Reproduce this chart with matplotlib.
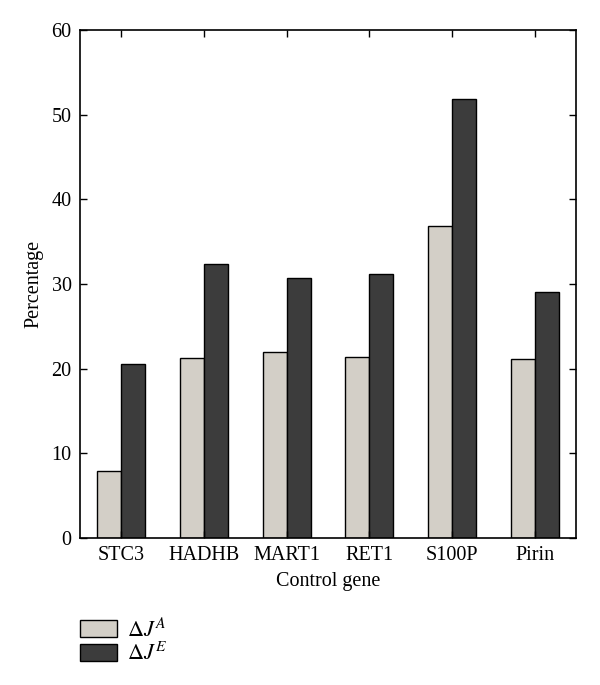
import matplotlib
matplotlib.use("Agg")
import matplotlib.pyplot as plt
import numpy as np

# values
genes = ['STC3', 'HADHB', 'MART1', 'RET1', 'S100P', 'Pirin']
delta_ja = [7.9, 21.3, 22.0, 21.4, 36.9, 21.1]
delta_je = [20.6, 32.4, 30.7, 31.2, 51.9, 29.1]

plt.rcParams['font.family'] = ['Liberation Serif', 'DejaVu Serif']
plt.rcParams['mathtext.fontset'] = 'stix'

fig = plt.figure(figsize=(6, 6.85), dpi=100)
ax = fig.add_axes([0.1333, 0.2146, 0.8267, 0.7416])

x = np.arange(len(genes))
w = 0.29
b1 = ax.bar(x - w / 2, delta_ja, w, color='#d3cfc7', edgecolor='black', linewidth=1.0, label=r'$\Delta J^{A}$')
b2 = ax.bar(x + w / 2, delta_je, w, color='#3c3c3c', edgecolor='black', linewidth=1.0, label=r'$\Delta J^{E}$')

ax.set_xlim(-0.5, 5.5)
ax.set_ylim(0, 60)
ax.set_yticks(range(0, 61, 10))
ax.set_xticks(x)
ax.set_xticklabels(genes)
ax.tick_params(direction='in', top=True, right=True, length=5, width=1, labelsize=14.5, pad=6)
for s in ax.spines.values():
    s.set_linewidth(1.2)

ax.set_ylabel('Percentage', fontsize=14.5, labelpad=6)
ax.set_xlabel('Control gene', fontsize=14.5, labelpad=5)

fig.legend(handles=[b1, b2], loc='upper left', bbox_to_anchor=(0.133, 0.098),
           frameon=False, fontsize=16, handlelength=1.66, handleheight=0.8,
           handletextpad=0.45, labelspacing=0.05, borderaxespad=0, borderpad=0)

fig.savefig('out.png', dpi=100)
